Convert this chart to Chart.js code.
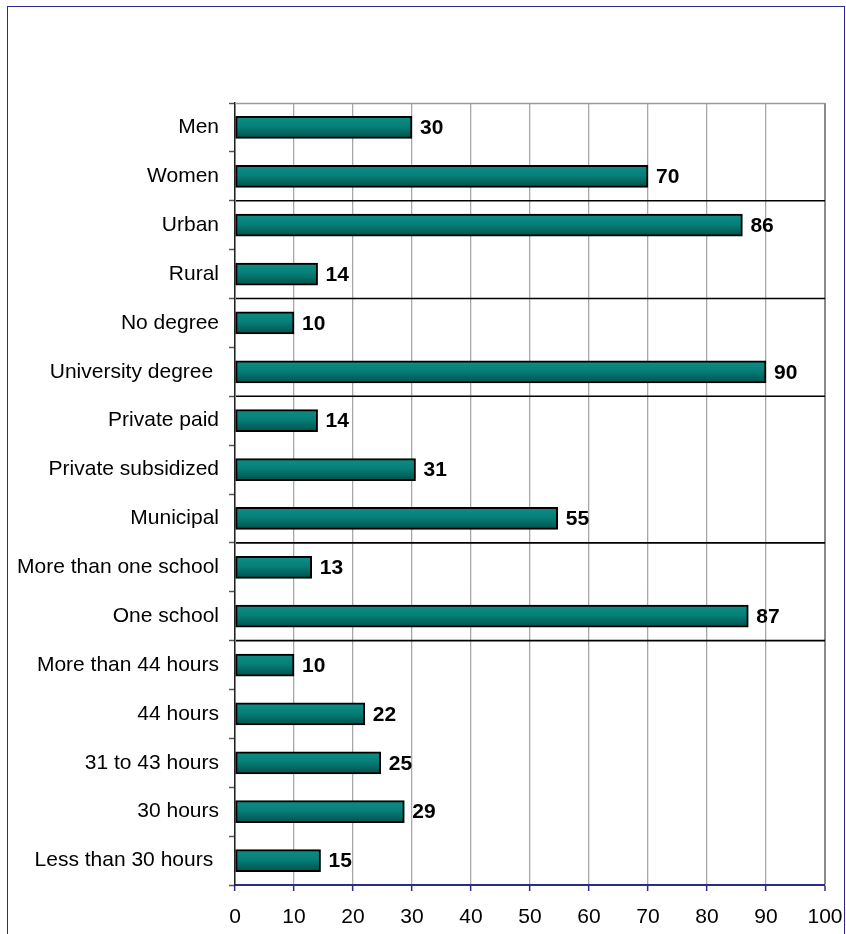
<!DOCTYPE html>
<html>
<head>
<meta charset="utf-8">
<script src="https://cdn.jsdelivr.net/npm/chart.js@4/dist/chart.umd.min.js"></script>
<style>
  html, body { margin: 0; padding: 0; background: #fff; }
  #wrap { position: relative; width: 846px; height: 934px; overflow: hidden; }
  #frame { position: absolute; left: 7px; top: 6px; width: 838px; height: 940px; border: 1px solid #2b2b8f; box-sizing: border-box; pointer-events: none; }
  canvas { position: absolute; left: 0; top: 0; }
</style>
</head>
<body>
<div id="wrap">
  <canvas id="c" width="846" height="934"></canvas>
  <div id="frame"></div>
</div>
<script>
const categories = [
  "Men", "Women",
  "Urban", "Rural",
  "No degree", "University degree ",
  "Private paid", "Private subsidized", "Municipal",
  "More than one school", "One school",
  "More than 44 hours", "44 hours", "31 to 43 hours", "30 hours", "Less than 30 hours "
];
const values = [30, 70, 86, 14, 10, 90, 14, 31, 55, 13, 87, 10, 22, 25, 29, 15];
const barEnds = [30, 70, 86, 14, 10, 90, 14, 30.6, 54.7, 13, 87, 10, 22, 24.7, 28.7, 14.5];
const groupSizes = [2, 2, 2, 3, 2, 5];
const xTicks = [0, 10, 20, 30, 40, 50, 60, 70, 80, 90, 100];

const FONT = "'Liberation Sans', Arial, sans-serif";

function barGradient(ctx) {
  const chart = ctx.chart;
  const ys = chart.scales && chart.scales.y;
  if (!chart.chartArea || !ys) return '#07786f';
  const yc = ys.getPixelForValue(ctx.dataIndex);
  const g = chart.ctx.createLinearGradient(0, yc - 10, 0, yc + 10);
  g.addColorStop(0, '#0c8d85');
  g.addColorStop(0.45, '#077f78');
  g.addColorStop(1, '#00554f');
  return g;
}

const decorations = {
  id: 'decorations',
  beforeDatasetsDraw(chart) {
    const { ctx, chartArea } = chart;
    const ys = chart.scales.y;
    ctx.save();
    ctx.strokeStyle = '#9a9a9a';
    ctx.lineWidth = 1.5;
    ctx.beginPath();
    ctx.moveTo(chartArea.left, chartArea.top + 0.5);
    ctx.lineTo(chartArea.right, chartArea.top + 0.5);
    ctx.stroke();
    ctx.strokeStyle = '#000';
    ctx.lineWidth = 1.6;
    let idx = 0;
    for (let g = 0; g < groupSizes.length - 1; g++) {
      idx += groupSizes[g];
      const y = (ys.getPixelForValue(idx - 1) + ys.getPixelForValue(idx)) / 2;
      ctx.beginPath();
      ctx.moveTo(chartArea.left + 1, y);
      ctx.lineTo(chartArea.right, y);
      ctx.stroke();
    }
    ctx.restore();
  },
  afterDatasetsDraw(chart) {
    const { ctx } = chart;
    const meta = chart.getDatasetMeta(0);
    ctx.save();
    ctx.font = "bold 21px " + FONT;
    ctx.fillStyle = '#000';
    ctx.textBaseline = 'middle';
    ctx.textAlign = 'left';
    meta.data.forEach((bar, i) => {
      ctx.fillText(String(values[i]), bar.x + 8, bar.y + 1);
    });
    ctx.restore();
  }
};

new Chart(document.getElementById('c'), {
  type: 'bar',
  data: {
    labels: categories,
    datasets: [{
      data: barEnds,
      backgroundColor: barGradient,
      borderColor: '#000',
      borderWidth: 2,
      borderSkipped: false,
      barThickness: 22
    }]
  },
  plugins: [decorations],
  options: {
    indexAxis: 'y',
    responsive: false,
    animation: false,
    events: [],
    layout: { padding: { left: 0, top: 103, right: 21, bottom: 0 } },
    plugins: { legend: { display: false }, tooltip: { enabled: false } },
    scales: {
      x: {
        min: 0, max: 100,
        afterBuildTicks(scale) { scale.ticks = xTicks.map(v => ({ value: v })); },
        afterFit(scale) { scale.height = 49; scale.paddingLeft = 0; scale.paddingRight = 0; },
        border: { display: true, color: '#2b2b8f', width: 2 },
        grid: {
          color: (c) => c.tick && c.tick.value === 100 ? '#8a8a8a' : '#a8a8a8',
          lineWidth: (c) => c.tick && c.tick.value === 100 ? 2 : 1.3,
          drawTicks: true,
          tickLength: 6,
          tickColor: '#2b2b8f',
          tickWidth: 1.5
        },
        ticks: {
          color: '#000',
          font: { family: FONT, size: 21 },
          padding: 14,
          maxRotation: 0,
          autoSkip: false
        }
      },
      y: {
        afterFit(scale) { scale.width = 235; scale.paddingTop = 0; scale.paddingBottom = 0; },
        border: { display: true, color: '#222', width: 1.5 },
        grid: {
          offset: true,
          drawOnChartArea: false,
          drawTicks: true,
          tickLength: 6,
          tickColor: '#555',
          tickWidth: 1.5
        },
        ticks: {
          color: '#000',
          font: { family: FONT, size: 21 },
          padding: 10,
          autoSkip: false
        }
      }
    }
  }
});
</script>
</body>
</html>
